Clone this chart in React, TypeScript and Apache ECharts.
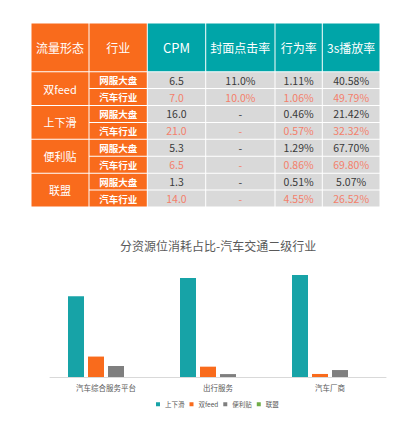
import React, { useEffect, useRef } from "react";
import * as echarts from "echarts";

// ---- Table data ----
const headers = ["流量形态", "行业", "CPM", "封面点击率", "行为率", "3s播放率"];
const flowTypes = ["双feed", "上下滑", "便利贴", "联盟"];
const industries = ["网服大盘", "汽车行业"];
const cpm = ["6.5", "7.0", "16.0", "21.0", "5.3", "6.5", "1.3", "14.0"];
const coverCtr = ["11.0%", "10.0%", "-", "-", "-", "-", "-", "-"];
const actionRate = ["1.11%", "1.06%", "0.46%", "0.57%", "1.29%", "0.86%", "0.51%", "4.55%"];
const play3s = ["40.58%", "49.79%", "21.42%", "32.32%", "67.70%", "69.80%", "5.07%", "26.52%"];

// ---- Bar chart data ----
const chartTitle = "分资源位消耗占比-汽车交通二级行业";
const categories = ["汽车综合服务平台", "出行服务", "汽车厂商"];
const seriesNames = ["上下滑", "双feed", "便利贴", "联盟"];
const shangxiahua = [72.0, 88.2, 90.8];
const shuangfeed = [18.2, 9.2, 2.7];
const bianlitie = [9.8, 2.6, 6.2];
const lianmeng = [0, 0, 0];

const ORANGE = "#F96B1C";
const TEAL = "#00A5A8";
const GRAY_CELL = "#D9D9D9";
const DARK_TXT = "#3A3A3A";
const SALMON = "#F47F6B";
const FONT = "'Noto Sans CJK SC', 'Noto Sans', sans-serif";

function buildTable() {
  const colX = [31, 89, 147.3, 205.7, 275, 322.3, 380];
  const top = 23;
  const headerBottom = 71.7;
  const rowH = (207 - headerBottom) / 8;
  const els: any[] = [];
  const cell = (x0: number, y0: number, x1: number, y1: number, fill: string) => {
    els.push({
      type: "rect",
      shape: { x: x0 + 0.5, y: y0 + 0.5, width: x1 - x0 - 1, height: y1 - y0 - 1 },
      style: { fill },
      silent: true,
    });
  };
  const txt = (cx: number, cy: number, text: string, fill: string, size: number, weight: any) => {
    els.push({
      type: "text",
      x: cx,
      y: cy,
      style: {
        text,
        fill,
        fontSize: size,
        fontWeight: weight,
        fontFamily: FONT,
        align: "center",
        verticalAlign: "middle",
      },
      silent: true,
    });
  };
  // header
  headers.forEach((h, i) => {
    const fill = i < 2 ? ORANGE : TEAL;
    cell(colX[i], top, colX[i + 1], headerBottom, fill);
    txt((colX[i] + colX[i + 1]) / 2, (top + headerBottom) / 2, h, "#FFFFFF", i === 2 ? 13 : 12, "normal");
  });
  const cols = [cpm, coverCtr, actionRate, play3s];
  flowTypes.forEach((f, g) => {
    const gy0 = headerBottom + g * 2 * rowH;
    const gy1 = gy0 + 2 * rowH;
    cell(colX[0], gy0, colX[1], gy1, ORANGE);
    txt((colX[0] + colX[1]) / 2, (gy0 + gy1) / 2, f, "#FFFFFF", 11, "normal");
    industries.forEach((ind, r) => {
      const idx = g * 2 + r;
      const y0 = gy0 + r * rowH;
      const y1 = y0 + rowH;
      cell(colX[1], y0, colX[2], y1, ORANGE);
      txt((colX[1] + colX[2]) / 2, (y0 + y1) / 2, ind, "#FFFFFF", 9.5, "bold");
      cols.forEach((arr, c) => {
        cell(colX[c + 2], y0, colX[c + 3], y1, GRAY_CELL);
        txt(
          (colX[c + 2] + colX[c + 3]) / 2,
          (y0 + y1) / 2,
          arr[idx],
          r === 0 ? DARK_TXT : SALMON,
          10.5,
          "normal"
        );
      });
    });
  });
  return els;
}

export default function App() {
  const ref = useRef<HTMLDivElement>(null);
  useEffect(() => {
    document.body.style.margin = "0";
    if (!ref.current) return;
    const chart = echarts.init(ref.current, null, { renderer: "svg" });
    const colors = ["#17A3A7", ORANGE, "#7F7F7F", "#70AD47"];
    const dataArr = [shangxiahua, shuangfeed, bianlitie, lianmeng];
    chart.setOption({
      animation: false,
      backgroundColor: "#FFFFFF",
      color: colors,
      title: {
        text: chartTitle,
        left: 115,
        top: 234,
        textStyle: { fontSize: 12, fontWeight: "normal", color: "#595959", fontFamily: FONT },
      },
      legend: {
        data: seriesNames,
        left: 151,
        top: 396,
        itemWidth: 4,
        itemHeight: 4,
        itemGap: 5,
        icon: "rect",
        textStyle: { fontSize: 6.5, color: "#595959", fontFamily: FONT },
      },
      grid: { left: 50, right: 16, top: 264.7, bottom: 48, containLabel: false },
      xAxis: {
        type: "category",
        data: categories,
        axisLine: { lineStyle: { color: "#D9D9D9", width: 1 } },
        axisTick: { show: false },
        axisLabel: { fontSize: 7.5, color: "#595959", margin: 7, fontFamily: FONT },
      },
      yAxis: {
        type: "value",
        min: 0,
        max: 100,
        show: false,
        splitLine: { show: false },
      },
      series: seriesNames.map((n, i) => ({
        name: n,
        type: "bar",
        data: dataArr[i],
        barWidth: 16,
        barGap: "25%",
        itemStyle: { color: colors[i] },
      })),
      graphic: { elements: buildTable() },
    });
    return () => chart.dispose();
  }, []);
  return <div ref={ref} style={{ width: 402, height: 425 }} />;
}
